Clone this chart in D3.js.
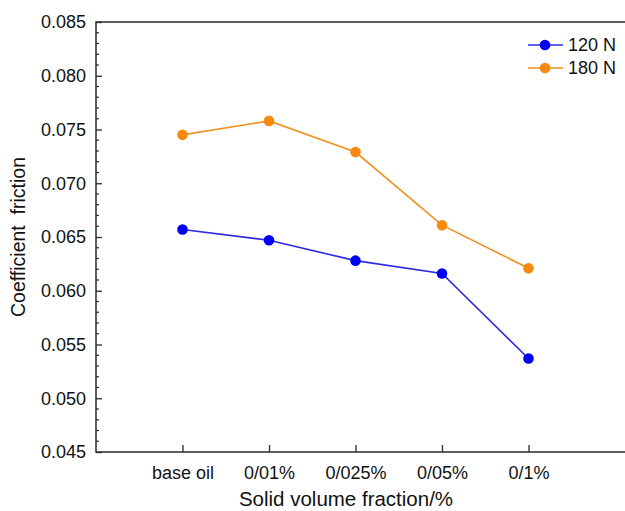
<!DOCTYPE html>
<html>
<head>
<meta charset="utf-8">
<script src="https://cdn.jsdelivr.net/npm/d3@7"></script>
<style>
  body { margin: 0; background: #fff; }
  text { font-family: "Liberation Sans", Arial, Helvetica, sans-serif; fill: #111; }
</style>
</head>
<body>
<svg id="chart" width="625" height="511"></svg>
<script>
// data
var categories = ["base oil", "0/01%", "0/025%", "0/05%", "0/1%"];
var load120 = [0.0657, 0.0647, 0.0628, 0.0616, 0.0537];
var load180 = [0.0745, 0.0758, 0.0729, 0.0661, 0.0621];
var seriesNames = ["120 N", "180 N"];
var yTicks = [0.045, 0.050, 0.055, 0.060, 0.065, 0.070, 0.075, 0.080, 0.085];

var colors = {
    "120 N": { line: "#2a2ae0", dot: "#0000f5" },
    "180 N": { line: "#f0921f", dot: "#f7890f" }
};

var cfg = { left: 96, top: 22, bottom: 452, right: 615, frameRight: 630 };

var svg = d3.select("#chart");

var x = d3.scalePoint()
    .domain(categories)
    .range([cfg.left, cfg.right])
    .padding(1);

var y = d3.scaleLinear()
    .domain([0.045, 0.085])
    .range([cfg.bottom, cfg.top]);

// frame (right side runs off the picture)
svg.append("path")
    .attr("d", "M" + cfg.frameRight + "," + cfg.top + "H" + cfg.left + "V" + cfg.bottom + "H" + cfg.frameRight)
    .style("fill", "none")
    .style("stroke", "#2a2a2a")
    .style("stroke-width", "1.5px");

// y axis, ticks inside
var yAxis = d3.axisLeft(y)
    .tickValues(yTicks)
    .tickFormat(d3.format(".3f"))
    .tickSizeInner(-6)
    .tickSizeOuter(0);

var gy = svg.append("g")
    .attr("transform", "translate(" + cfg.left + ",0)")
    .call(yAxis);
gy.select(".domain").remove();
gy.selectAll("line").style("stroke", "#2a2a2a").style("stroke-width", "1.3px");
gy.selectAll("text")
    .style("font-size", "18px")
    .attr("x", -10)
    .attr("dy", "0.33em");

// minor ticks every 0.001
var minor = d3.range(0.046, 0.085, 0.001).filter(function (v) {
    return Math.abs(Math.round(v * 200) - v * 200) > 0.01;
});
svg.selectAll(".minor")
    .data(minor)
    .enter()
    .append("line")
    .attr("class", "minor")
    .attr("x1", cfg.left)
    .attr("x2", cfg.left + 3)
    .attr("y1", d => y(d))
    .attr("y2", d => y(d))
    .style("stroke", "#2a2a2a")
    .style("stroke-width", "1.2px");

// x axis, ticks inside
var xAxis = d3.axisBottom(x)
    .tickSizeInner(-7)
    .tickSizeOuter(0);

var gx = svg.append("g")
    .attr("transform", "translate(0," + cfg.bottom + ")")
    .call(xAxis);
gx.select(".domain").remove();
gx.selectAll("line").style("stroke", "#2a2a2a").style("stroke-width", "1.3px");
gx.selectAll("text")
    .style("font-size", "18px")
    .attr("y", 27)
    .attr("dy", "0");

// axis titles
svg.append("text")
    .attr("x", 346)
    .attr("y", 506)
    .attr("text-anchor", "middle")
    .style("font-size", "20.5px")
    .text("Solid volume fraction/%");

svg.append("text")
    .attr("transform", "translate(25," + ((cfg.top + cfg.bottom) / 2) + ") rotate(-90)")
    .attr("text-anchor", "middle")
    .style("font-size", "19.5px")
    .attr("xml:space", "preserve")
    .text("Coefficient  friction");

// series
var series = [
    { name: seriesNames[0], values: load120 },
    { name: seriesNames[1], values: load180 }
];

var line = d3.line()
    .x((d, i) => x(categories[i]))
    .y(d => y(d));

series.forEach(function (s) {
    svg.append("path")
        .datum(s.values)
        .attr("d", line)
        .style("fill", "none")
        .style("stroke", colors[s.name].line)
        .style("stroke-width", "1.6px");

    svg.selectAll(".dot-" + s.name.replace(/\W/g, ""))
        .data(s.values)
        .enter()
        .append("circle")
        .attr("cx", (d, i) => x(categories[i]))
        .attr("cy", d => y(d))
        .attr("r", 5.3)
        .style("fill", colors[s.name].dot);
});

// legend
var legend = svg.selectAll(".legend")
    .data(seriesNames)
    .enter()
    .append("g")
    .attr("class", "legend")
    .attr("transform", (d, i) => "translate(528," + (45 + i * 23) + ")");

legend.append("line")
    .attr("x1", 0)
    .attr("x2", 35)
    .style("stroke", d => colors[d].line)
    .style("stroke-width", "1.6px");

legend.append("circle")
    .attr("cx", 17)
    .attr("r", 5.3)
    .style("fill", d => colors[d].dot);

legend.append("text")
    .attr("x", 40)
    .attr("dy", "0.36em")
    .style("font-size", "18px")
    .text(d => d);
</script>
</body>
</html>
